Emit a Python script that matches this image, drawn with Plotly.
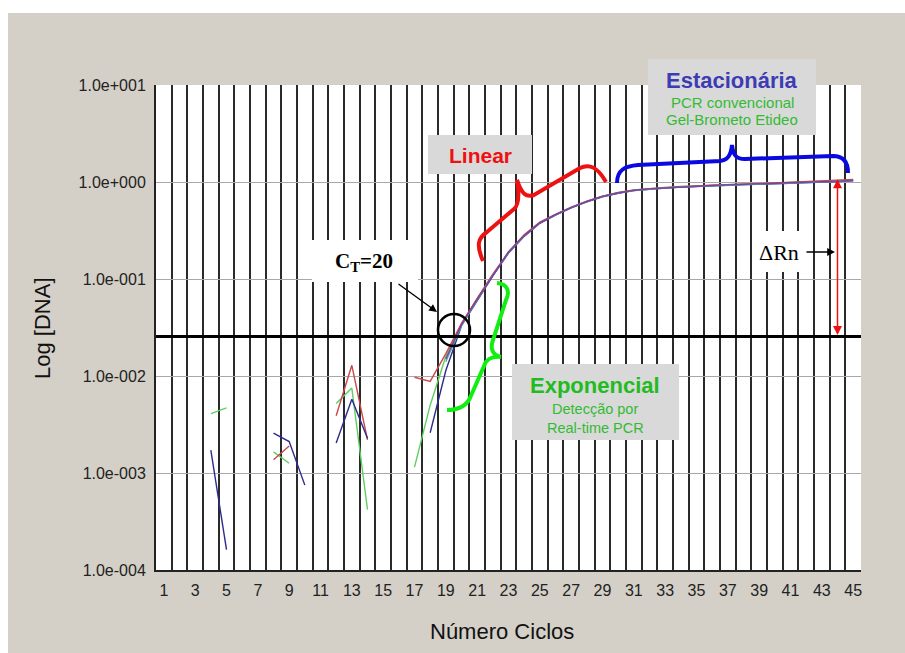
import plotly.graph_objects as go
import numpy as np

# ---------------- data ----------------
cycles = list(range(1, 46))
threshold = 0.0255
drn_top = 1.07
drn_cycle = 44

red_run = {8: 0.00137, 9: 0.0019, 12: 0.0039, 13: 0.0129, 14: 0.0022,
           17: 0.0097, 18: 0.0088, 19: 0.017, 20: 0.035, 21: 0.063, 22: 0.112,
           23: 0.19, 24: 0.285, 25: 0.385, 26: 0.465, 27: 0.55, 28: 0.635,
           29: 0.715, 30: 0.78, 31: 0.83, 32: 0.86, 33: 0.88, 34: 0.9, 35: 0.915,
           36: 0.93, 37: 0.945, 38: 0.955, 39: 0.965, 40: 0.975, 41: 0.99,
           42: 1.0, 43: 1.02, 44: 1.04, 45: 1.06}
green_run = {4: 0.0041, 5: 0.0047, 8: 0.00165, 9: 0.00126, 12: 0.0052,
             13: 0.0075, 14: 0.00042, 17: 0.00115, 18: 0.005, 19: 0.016,
             20: 0.034, 21: 0.062, 22: 0.11, 23: 0.19, 24: 0.28, 25: 0.38,
             26: 0.46, 27: 0.545, 28: 0.63, 29: 0.71, 30: 0.775, 31: 0.825,
             32: 0.855, 33: 0.875, 34: 0.895, 35: 0.91, 36: 0.925, 37: 0.94,
             38: 0.95, 39: 0.96, 40: 0.97, 41: 0.98, 42: 0.995, 43: 1.01,
             44: 1.03, 45: 1.05}
blue_run = {4: 0.00172, 5: 0.000162, 8: 0.00257, 9: 0.00211, 10: 0.00075,
            12: 0.00204, 13: 0.00575, 14: 0.00228, 18: 0.0026, 19: 0.0114,
            20: 0.033, 21: 0.06, 22: 0.108, 23: 0.185, 24: 0.275, 25: 0.375,
            26: 0.455, 27: 0.54, 28: 0.625, 29: 0.705, 30: 0.765, 31: 0.815,
            32: 0.845, 33: 0.865, 34: 0.885, 35: 0.9, 36: 0.915, 37: 0.93,
            38: 0.94, 39: 0.95, 40: 0.96, 41: 0.97, 42: 0.985, 43: 0.995,
            44: 1.01, 45: 1.03}
teal_run = {19: 0.014, 20: 0.033, 21: 0.061, 22: 0.109, 23: 0.188, 24: 0.278,
            25: 0.378, 26: 0.458, 27: 0.543, 28: 0.628, 29: 0.708, 30: 0.77,
            31: 0.818, 32: 0.848, 33: 0.868, 34: 0.888, 35: 0.902, 36: 0.918,
            37: 0.932, 38: 0.942, 39: 0.952, 40: 0.962, 41: 0.972, 42: 0.987,
            43: 0.998, 44: 1.015, 45: 1.035}
purple_run = {19: 0.015, 20: 0.034, 21: 0.062, 22: 0.11, 23: 0.19, 24: 0.28,
              25: 0.38, 26: 0.46, 27: 0.545, 28: 0.63, 29: 0.71, 30: 0.77,
              31: 0.82, 32: 0.85, 33: 0.87, 34: 0.89, 35: 0.905, 36: 0.92,
              37: 0.935, 38: 0.945, 39: 0.955, 40: 0.965, 41: 0.975, 42: 0.99,
              43: 1.0, 44: 1.02, 45: 1.04}

ytick_vals = [1e-4, 1e-3, 1e-2, 1e-1, 1e0, 1e1]
ytick_text = ["1.0e-004", "1.0e-003", "1.0e-002", "1.0e-001", "1.0e+000", "1.0e+001"]
xtick_vals = list(range(1, 46, 2))
xgrid_vals = [c + 0.5 for c in range(0, 46)]

# ---------------- layout geometry (pixels) ----------------
W, H = 905, 653
L, R, T, B = 156, 861, 85, 570
PW, PH = R - L, B - T
BG = "#d4d0c8"


def px(x):
    return (x - L) / PW


def py(y):
    return (B - y) / PH


def path(points_cmds):
    out = []
    for cmd in points_cmds:
        letter, *coords = cmd
        pts = []
        for i in range(0, len(coords), 2):
            pts.append(f"{px(coords[i]):.5f},{py(coords[i+1]):.5f}")
        out.append(letter + " " + " ".join(pts))
    return " ".join(out)


fig = go.Figure()


def series(d):
    return [d.get(c) for c in cycles]


for d, col in [(green_run, "#5fcf5f"), (red_run, "#c84a4a"), (blue_run, "#2c2c8c"),
               (teal_run, "#3cb4b4"), (purple_run, "#8a3a9a")]:
    fig.add_trace(go.Scatter(x=cycles, y=series(d), mode="lines",
                             line=dict(color=col, width=1.4),
                             connectgaps=False, showlegend=False, hoverinfo="skip"))

# threshold line
fig.add_trace(go.Scatter(x=[0.5, 45.5], y=[threshold, threshold], mode="lines",
                         line=dict(color="black", width=3), showlegend=False,
                         hoverinfo="skip"))

shapes = []
# white outer border (top/left)
shapes.append(dict(type="rect", xref="paper", yref="paper", x0=px(0), x1=px(W),
                   y0=py(13), y1=py(0), fillcolor="white", line=dict(width=0), layer="below"))
shapes.append(dict(type="rect", xref="paper", yref="paper", x0=px(0), x1=px(8),
                   y0=py(H), y1=py(0), fillcolor="white", line=dict(width=0), layer="below"))

# gray label boxes
for (x0, y0, x1, y1, fc) in [(428, 135, 532, 174, "#d9d9d9"),
                             (648, 59, 816, 135, "#d9d9d9"),
                             (512, 364, 679, 440, "#d9d9d9"),
                             (312, 240, 418, 282, "white"),
                             (752, 231, 813, 272, "white")]:
    shapes.append(dict(type="rect", xref="paper", yref="paper", x0=px(x0), x1=px(x1),
                       y0=py(y1), y1=py(y0), fillcolor=fc, line=dict(width=0)))

# braces
red_brace = path([("M", 483, 261), ("C", 476, 245, 478, 238, 487, 232), ("L", 514, 209),
                  ("C", 520, 204, 519, 192, 517, 180), ("C", 521, 192, 525, 198, 534, 195),
                  ("L", 580, 168), ("C", 590, 163, 598, 168, 606, 182)])
blue_brace = path([("M", 617, 183), ("C", 617, 170, 625, 166, 638, 165), ("L", 720, 161),
                   ("C", 728, 160, 731, 155, 732, 145), ("C", 733, 155, 736, 159, 745, 159),
                   ("L", 833, 156), ("C", 843, 156, 848, 162, 848, 173)])
green_brace = path([("M", 497, 283), ("C", 508, 284, 510, 292, 506, 300), ("L", 493, 340),
                    ("C", 490, 348, 492, 355, 501, 357), ("C", 490, 356, 486, 360, 484, 366),
                    ("L", 470, 398), ("C", 466, 406, 458, 410, 447, 410)])
for p, col in [(red_brace, "#ee1111"), (blue_brace, "#0a0ae0"), (green_brace, "#11ee11")]:
    shapes.append(dict(type="path", xref="paper", yref="paper", path=p,
                       line=dict(color=col, width=4)))

# CT circle
shapes.append(dict(type="circle", xref="paper", yref="paper", x0=px(438), x1=px(470),
                   y0=py(346), y1=py(314), line=dict(color="black", width=2.5)))

annotations = []


def text(x, y, s, size, color, family="Arial", bold=False, angle=0):
    annotations.append(dict(xref="paper", yref="paper", x=px(x), y=py(y),
                            text=f"<b>{s}</b>" if bold else s, showarrow=False,
                            xanchor="center", yanchor="middle", textangle=angle,
                            font=dict(size=size, color=color, family=family)))


text(480, 155, "Linear", 21, "#ee1111", bold=True)
text(732, 80, "Estacionária", 22, "#3c3cb4", bold=True)
text(732, 102, "PCR convencional", 15, "#33bb33")
text(732, 120, "Gel-Brometo Etideo", 15, "#33bb33")
text(595, 385, "Exponencial", 22, "#22bb22", bold=True)
text(595, 409, "Detecção por", 14.5, "#33bb33")
text(595, 428, "Real-time PCR", 14.5, "#33bb33")
text(364, 262, "C<sub>T</sub>=20", 21, "black", family="Liberation Serif", bold=True)
text(779, 252, "ΔRn", 22, "black", family="Liberation Serif")

# CT arrow
annotations.append(dict(xref="paper", yref="paper", x=px(437), y=py(312), ax=397 - 437,
                        ay=283 - 312, text="", showarrow=True, arrowhead=2, arrowsize=1.2,
                        arrowwidth=1.3, arrowcolor="black"))
# ΔRn arrow
annotations.append(dict(xref="paper", yref="paper", x=px(835), y=py(252), ax=805 - 835,
                        ay=0, text="", showarrow=True, arrowhead=2, arrowsize=1.2,
                        arrowwidth=1.3, arrowcolor="black"))
# red double arrow
annotations.append(dict(xref="x", yref="y", x=drn_cycle, y=np.log10(drn_top),
                        axref="x", ayref="y", ax=drn_cycle, ay=np.log10(threshold),
                        text="", showarrow=True, arrowhead=2, startarrowhead=2,
                        arrowside="end+start", arrowsize=1.2, arrowwidth=1.5,
                        arrowcolor="#ee1111"))
# axis titles
text(42, 328, "Log [DNA]", 22, "#111", angle=-90)
text(502, 631, "Número Ciclos", 22, "#111")

fig.update_layout(
    width=W, height=H,
    margin=dict(l=L, r=W - R, t=T, b=H - B),
    paper_bgcolor=BG, plot_bgcolor="white",
    shapes=shapes, annotations=annotations, showlegend=False,
    xaxis=dict(range=[0.5, 45.5], tickvals=xtick_vals, showgrid=False, zeroline=False,
               showline=True, linecolor="#222", linewidth=2, ticks="outside",
               ticklen=5, tickcolor=BG,
               tickfont=dict(family="Arial", size=16, color="#222")),
    yaxis=dict(type="log", range=[-4, 1], tickvals=ytick_vals, ticktext=ytick_text,
               showgrid=True, gridcolor="#a8a8a8", gridwidth=1, zeroline=False,
               showline=True, linecolor="#222", linewidth=2, ticks="outside",
               ticklen=5, tickcolor=BG,
               tickfont=dict(family="Arial", size=16, color="#222")),
)
fig.update_xaxes(minor=dict(tickvals=xgrid_vals, showgrid=True, gridcolor="#2a2a2a",
                            gridwidth=2, ticks=""))

fig.write_html("out.html")
